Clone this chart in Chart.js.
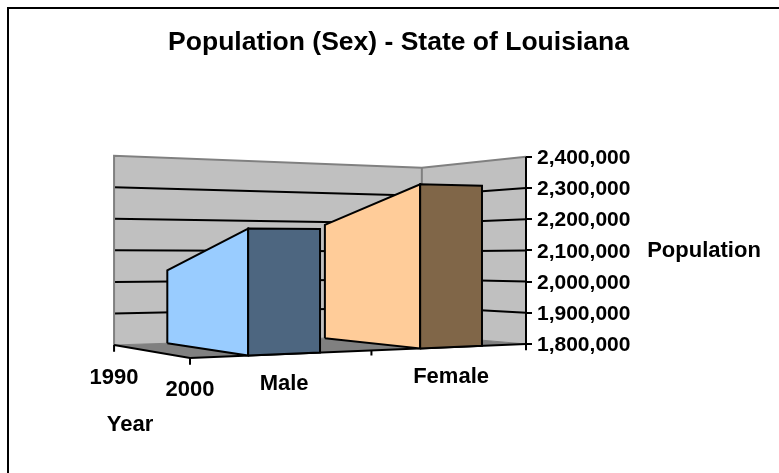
<!DOCTYPE html>
<html>
<head>
<meta charset="utf-8">
<title>Population (Sex) - State of Louisiana</title>
<script src="https://cdn.jsdelivr.net/npm/chart.js@4"></script>
<style>
html,body{margin:0;padding:0;background:#fff;width:779px;height:473px;overflow:hidden}
#wrap{position:relative;width:779px;height:473px}
#frame{position:absolute;left:7px;top:7px;right:0;bottom:0;border-top:2px solid #000;border-left:2px solid #000}
canvas{position:absolute;left:0;top:0}
</style>
</head>
<body>
<div id="wrap"><div id="frame"></div><canvas id="c" width="779" height="473"></canvas></div>
<script>
// ---- data ----
const titleText = 'Population (Sex) - State of Louisiana';
const categories = ['Male', 'Female'];
const years = ['1990', '2000'];
const maleValues = [2036000, 2165000];
const femaleValues = [2190000, 2304000];
const tickValues = [1800000, 1900000, 2000000, 2100000, 2200000, 2300000, 2400000];
const depthAxisTitle = 'Year';
const valueAxisTitle = 'Population';

// ---- 3D view (perspective constants, in axis units) ----
const V0 = 1800000, VMAX = 2400000;
const view = {
  f0: {x: 0,      base: -44900, k: 1.139},
  f1: {x: 1,      base: 0,      k: 1},
  b0: {x: -0.226, base: -3200,  k: 1.011},
  b1: {x: 0.690,  base: 28900,  k: 0.893}
};
const spans = [[0.173, 0.387], [0.685, 0.869]];
const lerp = (p, q, t) => p + (q - p) * t;
function bil(key, a, d) {
  return lerp(lerp(view.f0[key], view.f1[key], a), lerp(view.b0[key], view.b1[key], a), d);
}
function project(a, d, v) {
  return {x: bil('x', a, d), y: V0 + bil('base', a, d) + (v - V0) * bil('k', a, d)};
}
const drop = (p, amount) => ({x: p.x, y: p.y - amount});

const layers = [];
function poly(points, fillColor, strokeColor, width) {
  layers.push({
    data: points, showLine: true, tension: 0, pointRadius: 0, pointHoverRadius: 0,
    fill: fillColor ? 'shape' : false,
    backgroundColor: fillColor || 'transparent',
    borderColor: strokeColor || 'transparent',
    borderWidth: strokeColor ? width : 0,
    borderCapStyle: 'butt', borderJoinStyle: 'miter', clip: false
  });
}
const closed = pts => pts.concat([pts[0]]);

// walls
poly(closed([project(0,1,V0), project(1,1,V0), project(1,1,VMAX), project(0,1,VMAX)]), '#C0C0C0', null, 0);
poly(closed([project(1,1,V0), project(1,0,V0), project(1,0,VMAX), project(1,1,VMAX)]), '#C0C0C0', null, 0);
// grid lines on the walls
tickValues.slice(1, -1).forEach(v => poly([project(0,1,v), project(1,1,v), project(1,0,v)], null, '#000', 2));
// wall outlines
poly([project(0,1,V0), project(0,1,VMAX), project(1,1,VMAX), project(1,0,VMAX)], null, '#808080', 2);
poly([project(1,1,V0), project(1,1,VMAX)], null, '#808080', 2);
// floor
poly(closed([project(0,1,V0), project(0,0,V0), project(1,0,V0), project(1,1,V0)]), '#808080', null, 0);
poly([project(0,1,V0), project(1,1,V0), project(1,0,V0)], null, '#808080', 1);
// axes and tick marks
poly([project(0,1,V0), project(0,0,V0), project(1,0,V0)], null, '#000', 2);
poly([project(1,0,VMAX), drop(project(1,0,V0), 20000)], null, '#000', 2);
poly([project(0,1,V0), drop(project(0,1,V0), 22000)], null, '#000', 2);
poly([project(0,0,V0), drop(project(0,0,V0), 22000)], null, '#000', 2);
poly([project(0.54,0,V0), drop(project(0.54,0,V0), 16000)], null, '#000', 2);
// bars (areas running from the 1990 wall to the 2000 front)
function bar(span, vals, sideColor, frontColor) {
  const [a0, a1] = span;
  poly(closed([project(a0,1,V0), project(a0,0,V0), project(a0,0,vals[1]), project(a0,1,vals[0])]), sideColor, '#000', 2);
  poly(closed([project(a0,0,V0), project(a1,0,V0), project(a1,0,vals[1]), project(a0,0,vals[1])]), frontColor, '#000', 2);
}
bar(spans[0], maleValues, '#99CCFF', '#4D6680');
bar(spans[1], femaleValues, '#FFCC99', '#806648');
layers.forEach((l, i) => { l.order = layers.length - i; });

const family = '"Liberation Sans", Arial, sans-serif';

const axisText = {
  id: 'axisText',
  afterDatasetsDraw(chart) {
    const {ctx, scales} = chart;
    const px = p => ({x: scales.x.getPixelForValue(p.x), y: scales.y.getPixelForValue(p.y)});
    ctx.save();
    ctx.fillStyle = '#000';
    ctx.font = 'bold 22px ' + family;
    ctx.textAlign = 'center';
    ctx.textBaseline = 'middle';
    const put = (t, p, dx, dy) => ctx.fillText(t, p.x + dx, p.y + dy);
    put(years[0], px(project(0,1,V0)), 0, 33);
    put(years[1], px(project(0,0,V0)), 0, 32);
    categories.forEach((c, i) => {
      const m = (spans[i][0] + spans[i][1]) / 2;
      put(c, px(project(m,0,V0)), 0, 29.5);
    });
    const yr = px(project(0,1,V0));
    put(depthAxisTitle, yr, 16, 80);
    const pop = px(project(1,0,2100000));
    put(valueAxisTitle, pop, 178, 1);
    ctx.restore();
  }
};

new Chart(document.getElementById('c'), {
  type: 'scatter',
  data: {datasets: layers},
  plugins: [axisText],
  options: {
    responsive: false,
    animation: false,
    devicePixelRatio: 1,
    layout: {padding: {left: 18, right: 0, top: 0, bottom: 113.4}},
    plugins: {
      legend: {display: false},
      tooltip: {enabled: false},
      title: {
        display: true, text: titleText, color: '#000',
        font: {family: family, size: 26.5, weight: 'bold'},
        padding: {top: 26.5, bottom: 98.5}
      }
    },
    scales: {
      x: {type: 'linear', display: false, min: -0.25, max: 1},
      y: {
        type: 'linear', position: 'right', min: 1750000, max: VMAX,
        afterBuildTicks: s => { s.ticks = tickValues.map(v => ({value: v})); },
        afterFit: s => { s.width = 253; },
        border: {display: false},
        grid: {drawOnChartArea: false, drawTicks: true, tickLength: 6, color: '#000', lineWidth: 2},
        ticks: {color: '#000', font: {family: family, size: 21, weight: 'bold'}, padding: 5, autoSkip: false,
                labelOffset: 1.5,
                callback: v => Number(v).toLocaleString('en-US')}
      },
      spacer: {
        axis: 'y', type: 'linear', position: 'left', display: true,
        afterFit: s => { s.width = 88; },
        border: {display: false}, grid: {display: false}, ticks: {display: false}
      }
    }
  }
});
</script>
</body>
</html>
